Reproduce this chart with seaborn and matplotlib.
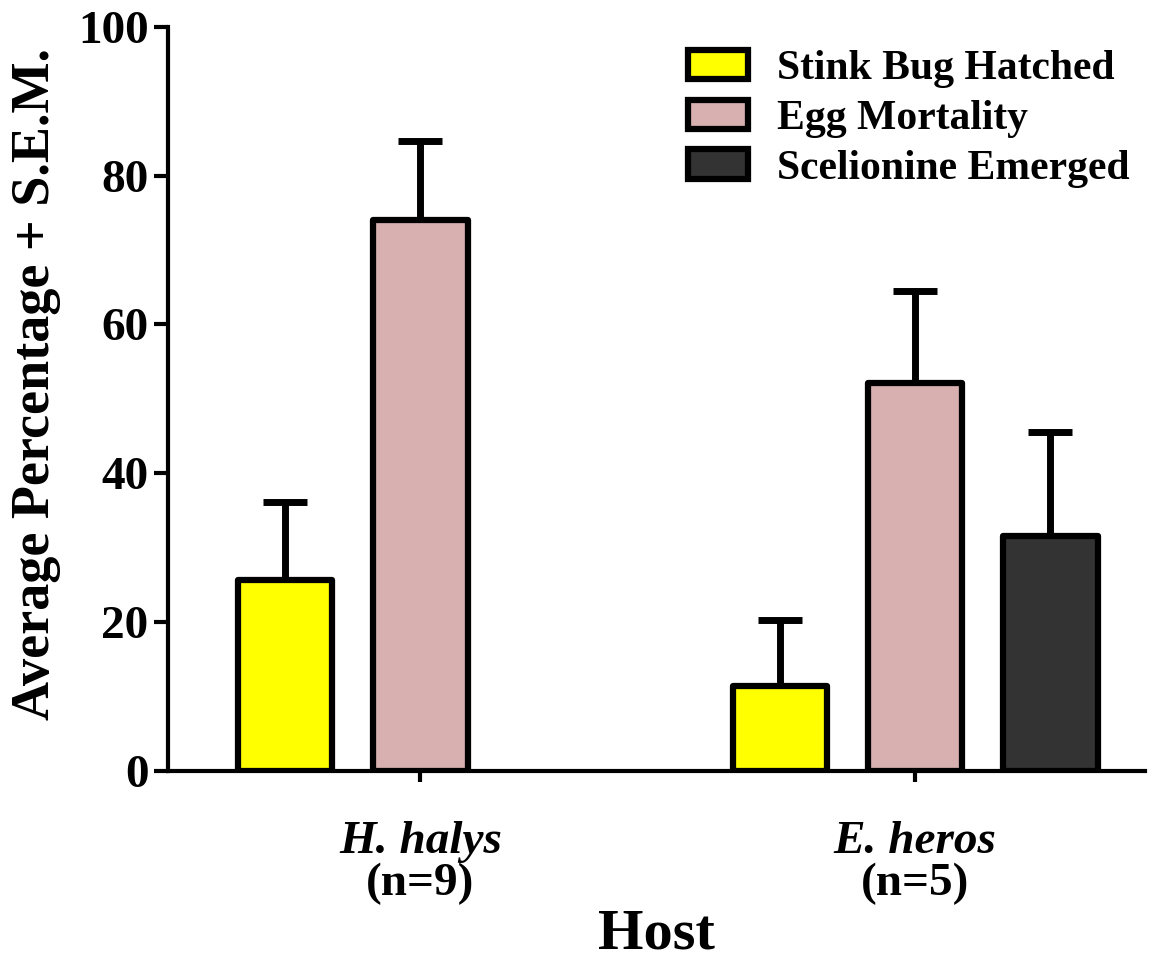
import pandas as pd
import matplotlib
matplotlib.use("Agg")
import matplotlib.pyplot as plt
import matplotlib.transforms as mtransforms
import seaborn as sns

hosts = ["H. halys", "E. heros"]
host_n = ["(n=9)", "(n=5)"]
outcomes = ["Stink Bug Hatched", "Egg Mortality", "Scelionine Emerged"]
hatched_mean = [25.7, 11.4]
hatched_sem = [10.4, 8.9]
mortality_mean = [74.1, 52.1]
mortality_sem = [10.6, 12.4]
scelionine_mean = [0.0, 31.6]
scelionine_sem = [0.0, 14.0]

colors = ["#FFFF00", "#D8B0B0", "#333333"]

if __name__ == "__main__":
    means = [hatched_mean, mortality_mean, scelionine_mean]
    sems = [hatched_sem, mortality_sem, scelionine_sem]
    rows = []
    for o, m in zip(outcomes, means):
        for h, v in zip(hosts, m):
            rows.append({"Host": h, "Outcome": o, "Value": v})
    data = pd.DataFrame(rows)

    sns.set_style("ticks")
    plt.rcParams["font.family"] = ["Liberation Serif", "DejaVu Serif"]
    plt.rcParams["font.weight"] = "bold"
    plt.rcParams["axes.labelweight"] = "bold"
    for k in ["text.color", "axes.labelcolor", "xtick.color",
              "ytick.color", "axes.edgecolor"]:
        plt.rcParams[k] = "black"

    fig, ax = plt.subplots(figsize=(11.58, 9.61), dpi=100)
    fig.subplots_adjust(left=0.145, right=0.989, top=0.972, bottom=0.198)

    sns.barplot(data=data, x="Host", y="Value", hue="Outcome",
                order=hosts, hue_order=outcomes, palette=colors,
                saturation=1, errorbar=None, width=0.82, gap=0.3,
                edgecolor="black", linewidth=4.5, ax=ax, zorder=3)

    # upper-only error bars (mean + SEM); skip the empty bar
    for cont, s in zip(ax.containers, sems):
        for bar, e in zip(cont, s):
            bar.set_joinstyle("round")
            if bar.get_height() <= 0:
                bar.set_visible(False)
            if e <= 0:
                continue
            xc = bar.get_x() + bar.get_width() / 2
            top = bar.get_height()
            ax.errorbar([xc], [top], yerr=[[0], [e]], fmt="none",
                        ecolor="black", elinewidth=5, capsize=16,
                        capthick=5, zorder=2)

    ax.set_ylim(0, 100)
    ax.set_yticks([0, 20, 40, 60, 80, 100])
    ax.set_xlim(-0.51, 1.465)

    ax.spines["top"].set_visible(False)
    ax.spines["right"].set_visible(False)
    ax.spines["left"].set_linewidth(3)
    ax.spines["bottom"].set_linewidth(3)
    ax.tick_params(axis="y", length=10, width=3, labelsize=34, pad=4)
    ax.tick_params(axis="x", length=8, width=3, labelsize=34, pad=28)

    ax.set_xticks(range(len(hosts)))
    ax.set_xticklabels(hosts, fontstyle="italic", fontweight="bold")
    trans = mtransforms.blended_transform_factory(ax.transData, ax.transAxes)
    for i, n in enumerate(host_n):
        ax.text(i, -0.152, n, transform=trans, ha="center", va="center",
                fontsize=34, fontweight="bold")

    ax.set_xlabel("Host", fontsize=42, fontweight="bold", labelpad=33)
    ax.set_ylabel("Average Percentage + S.E.M.", fontsize=39,
                  fontweight="bold", labelpad=12)
    ax.yaxis.label.set_y(0.52)

    leg = ax.legend(loc="upper right", bbox_to_anchor=(1.01, 1.003),
                    frameon=False, fontsize=30, handlelength=1.45,
                    handleheight=0.7, handletextpad=0.7, labelspacing=0.28,
                    borderaxespad=0.2)
    for t in leg.get_texts():
        t.set_fontweight("bold")
    for p in leg.get_patches():
        p.set_linewidth(4.5)
        p.set_edgecolor("black")

    plt.savefig("out.png", dpi=100)
